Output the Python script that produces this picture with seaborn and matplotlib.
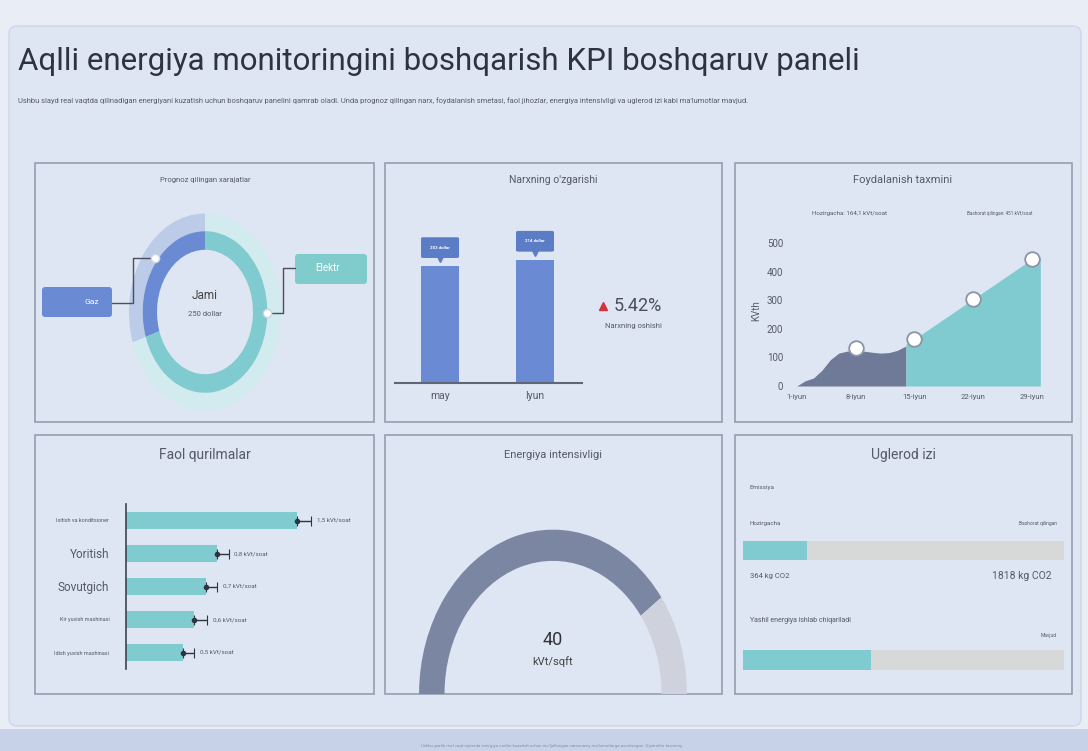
import matplotlib
matplotlib.use("Agg")
import matplotlib.pyplot as plt
from matplotlib.patches import Rectangle, FancyBboxPatch, Wedge
import seaborn as sb

W, H = 1088, 751

# ---- data ----
cost_labels = ["Gaz", "Elektr"]
cost_values = [75, 175]
cost_total = 250

price_months = ["may", "Iyun"]
price_values = [203, 214]
price_change = 5.42

usage_days_actual = [1, 2, 3, 4, 5, 6, 7, 8, 9, 10, 11, 12, 13, 14]
usage_actual = [0, 18, 28, 55, 92, 115, 122, 125, 122, 118, 115, 117, 125, 140]
usage_days_forecast = [14, 15, 22, 29, 30]
usage_forecast = [146, 164, 304, 444, 451]
usage_marker_days = [8, 15, 22, 29]
usage_marker_values = [133, 164, 304, 444]
usage_ticks = [1, 8, 15, 22, 29]
usage_tick_labels = ["1-iyun", "8-iyun", "15-iyun", "22-iyun", "29-iyun"]

device_names = ["Isitish va konditsioner", "Yoritish", "Sovutgich",
                "Kir yuvish mashinasi", "Idish yuvish mashinasi"]
device_kwh = [1.5, 0.8, 0.7, 0.6, 0.5]
device_err = [0.12, 0.1, 0.1, 0.11, 0.1]
device_labels = ["1,5 kVt/soat", "0,8 kVt/soat", "0,7 kVt/soat",
                 "0,6 kVt/soat", "0,5 kVt/soat"]
device_label_size = [4, 8.5, 8.5, 4, 4]

intensity_value = 40
intensity_max = 50

emission_now = 364
emission_forecast = 1818
green_share = 0.4

TXT = "#555b66"
BG = "#dee5f3"
EDGE = "#959db0"
BLUE = "#6a8bd3"
TEAL = "#7fcbcf"

sb.set_style("white")
plt.rcParams["font.family"] = ["Roboto", "DejaVu Sans"]

fig = plt.figure(figsize=(W / 100, H / 100), dpi=100)
fig.patch.set_facecolor("#e9edf6")


def px_axes(x0, y0, x1, y1):
    return fig.add_axes([x0 / W, 1 - y1 / H, (x1 - x0) / W, (y1 - y0) / H])


# background card
bg = px_axes(0, 0, W, H)
bg.set_xlim(0, W)
bg.set_ylim(H, 0)
bg.axis("off")
bg.add_patch(FancyBboxPatch((9, 26), 1072, 700, boxstyle="round,pad=0,rounding_size=8",
                            fc=BG, ec="#cfd6e8", lw=1))
bg.add_patch(Rectangle((0, 729), W, 22, fc="#c7d1e8", lw=0))

panels = [(35, 163, 374, 422), (385, 163, 722, 422), (735, 163, 1072, 422),
          (35, 435, 374, 694), (385, 435, 722, 694), (735, 435, 1072, 694)]
for x0, y0, x1, y1 in panels:
    bg.add_patch(Rectangle((x0, y0), x1 - x0, y1 - y0, fc=BG, ec=EDGE, lw=1.2))

# ---- panel 1: donut ----
ax = px_axes(124, 207, 286, 417)
ax.pie(cost_values, startangle=90, colors=["#bccbe8", "#d2ebee"], radius=1.22,
       wedgeprops=dict(width=0.22, linewidth=0))
ax.pie(cost_values, startangle=90, colors=[BLUE, TEAL], radius=1.0,
       wedgeprops=dict(width=0.23, linewidth=0))
ax.set_aspect("auto")
ax.set_xlim(-1.3, 1.3)
ax.set_ylim(-1.3, 1.3)
ax.axis("off")
ax.text(0, 0.2, "Jami", ha="center", va="center", fontsize=8.5, color="#444")
ax.text(0, -0.03, f"{cost_total} dollar", ha="center", va="center", fontsize=5.5, color=TXT)

# ---- panel 2: bars ----
ax = px_axes(395, 230, 582, 383)
sb.barplot(x=price_months, y=price_values, color=BLUE, width=0.41, saturation=1,
           edgecolor="none", linewidth=0, ax=ax)
ax.set_xlim(-0.474, 1.495)
ax.set_ylim(0, 265.6)
ax.set_facecolor("none")
for s in ["top", "right", "left"]:
    ax.spines[s].set_visible(False)
ax.spines["bottom"].set_color("#5f6675")
ax.spines["bottom"].set_linewidth(1.5)
ax.set_yticks([])
ax.set_xlabel("")
ax.set_ylabel("")
ax.tick_params(axis="x", length=0, pad=6, labelsize=7.5, labelcolor=TXT)
for i, v in enumerate(price_values):
    ax.add_patch(FancyBboxPatch((i - 0.2, v + 14), 0.4, 36, boxstyle="round,pad=0,rounding_size=0.03",
                                fc="#5b7dc6", lw=0, clip_on=False, mutation_aspect=60))
    ax.plot(i, v + 12, marker="v", ms=5, color="#5b7dc6", clip_on=False)
    ax.text(i, v + 32, f"{v} dollar", ha="center", va="center", fontsize=3.2,
            color="white", fontweight="bold")

# ---- panel 3: usage area ----
ax = px_axes(790, 236, 1047, 386)
ax.set_facecolor("none")
ax.fill_between(usage_days_actual, usage_actual, color="#6e7a97", lw=0)
ax.fill_between(usage_days_forecast, usage_forecast, color=TEAL, lw=0)
sb.scatterplot(x=usage_marker_days, y=usage_marker_values, s=110, color="white",
               edgecolor="#8b93a6", linewidth=1.3, ax=ax, zorder=5, clip_on=False)
ax.set_xlim(0.2, 30.8)
ax.set_ylim(0, 525)
ax.set_yticks([0, 100, 200, 300, 400, 500])
ax.set_xticks(usage_ticks)
ax.set_xticklabels(usage_tick_labels)
ax.tick_params(axis="y", length=0, pad=5, labelsize=7, labelcolor=TXT)
ax.tick_params(axis="x", length=0, pad=6, labelsize=5.5, labelcolor=TXT)
ax.set_ylabel("KVth", fontsize=7, color=TXT, labelpad=4)
sb.despine(ax=ax, left=True, bottom=True)

# ---- panel 4: devices ----
ax = px_axes(126, 504, 360, 669)
sb.barplot(x=device_kwh, y=device_names, orient="h", color=TEAL, width=0.5,
           saturation=1, edgecolor="none", linewidth=0, ax=ax)
ax.errorbar(device_kwh, list(range(len(device_kwh))), xerr=[[0] * len(device_err), device_err],
            fmt="o", color="#2f3540", ms=3, capsize=3.5, elinewidth=1, capthick=0.8)
for i, (v, e, lab) in enumerate(zip(device_kwh, device_err, device_labels)):
    ax.text(v + e + 0.05, i, lab, va="center", fontsize=4.5, color=TXT)
ax.set_xlim(0, 2.05)
ax.set_ylim(4.5, -0.5)
ax.set_facecolor("none")
ax.set_xticks([])
ax.set_xlabel("")
ax.set_ylabel("")
for s in ["top", "right", "bottom"]:
    ax.spines[s].set_visible(False)
ax.spines["left"].set_color("#3d4350")
ax.spines["left"].set_linewidth(1.2)
ax.tick_params(axis="y", length=0, pad=12, labelcolor=TXT)
for lab, fs in zip(ax.get_yticklabels(), device_label_size):
    lab.set_fontsize(fs)

# ---- panel 5: gauge ----
ax = px_axes(403, 505, 703, 694)
split = 180 * (1 - intensity_value / intensity_max)
ax.add_patch(Wedge((0, 0), 1, split, 180, width=0.19, color="#7b86a3", lw=0))
ax.add_patch(Wedge((0, 0), 1, 0, split, width=0.19, color="#cfd2dd", lw=0))
ax.set_xlim(-1.12, 1.12)
ax.set_ylim(0, 1.15)
ax.axis("off")
ax.text(0, 0.33, str(intensity_value), ha="center", va="center", fontsize=13, color="#333")
ax.text(0, 0.2, "kVt/sqft", ha="center", va="center", fontsize=8, color="#444")

# ---- panel 6: carbon progress ----
ax = px_axes(743, 470, 1064, 685)
ax.barh([0, 1], [1, 1], height=0.175, color="#d6d9d8", lw=0)
ax.barh([0, 1], [emission_now / emission_forecast, green_share], height=0.175, color=TEAL, lw=0)
ax.set_xlim(0, 1)
ax.set_ylim(1.228, -0.735)
ax.axis("off")

# ---- texts ----
ov = px_axes(0, 0, W, H)
ov.set_xlim(0, W)
ov.set_ylim(H, 0)
ov.axis("off")

ov.text(18, 61, "Aqlli energiya monitoringini boshqarish KPI boshqaruv paneli",
        fontsize=22.5, color="#2f3340", va="center")
ov.text(18, 101, "Ushbu slayd real vaqtda qilinadigan energiyani kuzatish uchun boshqaruv panelini "
        "qamrab oladi. Unda prognoz qilingan narx, foydalanish smetasi, faol jihozlar, energiya "
        "intensivligi va uglerod izi kabi ma'lumotlar mavjud.", fontsize=5.45, color=TXT, va="center")
ov.text(552, 746, "Ushbu grafik real vaqt rejimida energiya sarfini kuzatish uchun mo'ljallangan "
        "namunaviy ma'lumotlarga asoslangan. Qiymatlar taxminiy.", fontsize=3.2, color="#8a90a0",
        ha="center", va="center")

titles = [("Prognoz qilingan xarajatlar", 205, 180, 5.5), ("Narxning o'zgarishi", 553, 180, 7.5),
          ("Foydalanish taxmini", 903, 180, 8), ("Faol qurilmalar", 205, 455, 10),
          ("Energiya intensivligi", 553, 455, 8), ("Uglerod izi", 903, 455, 10)]
for t, x, y, fs in titles:
    ov.text(x, y, t, ha="center", va="center", fontsize=fs, color=TXT)

# donut labels
ov.add_patch(FancyBboxPatch((42, 287), 70, 30, boxstyle="round,pad=0,rounding_size=3", fc=BLUE, lw=0))
ov.text(92, 302, cost_labels[0], ha="center", va="center", fontsize=6, color="white")
ov.add_patch(FancyBboxPatch((295, 254), 72, 30, boxstyle="round,pad=0,rounding_size=3", fc="#80cccd", lw=0))
ov.text(327, 268, cost_labels[1], ha="center", va="center", fontsize=7, color="white")
ov.plot([112, 133, 133, 155], [303, 303, 258, 258], color="#4a4f5a", lw=1)
ov.plot([295, 283, 283, 267], [268, 268, 313, 313], color="#4a4f5a", lw=1)
ov.plot([155, 267], [258, 313], "o", ms=6, mfc="white", mec="#c8d4e6", mew=1, lw=0)

# price change
ov.plot(603, 306, marker="^", ms=6, color="#d0343f")
ov.text(614, 306, f"{price_change}%", fontsize=13, color="#4a4f5a", va="center")
ov.text(633, 326, "Narxning oshishi", fontsize=5.5, color=TXT, ha="center", va="center")

# usage notes
ov.text(850, 214, "Hozirgacha: 164,1 kVt/soat", fontsize=4.5, color=TXT, ha="center", va="center")
ov.text(1000, 214, "Bashorat qilingan: 451 kVt/soat", fontsize=3.3, color=TXT, ha="center", va="center")

# carbon texts
ov.text(750, 487, "Emissiya", fontsize=4.5, color=TXT, va="center")
ov.text(750, 523, "Hozirgacha", fontsize=4.5, color=TXT, va="center")
ov.text(1057, 523, "Bashorat qilingan", fontsize=3.5, color=TXT, va="center", ha="right")
ov.text(750, 576, f"{emission_now} kg CO2", fontsize=5.5, color=TXT, va="center")
ov.text(1052, 576, f"{emission_forecast} kg CO2", fontsize=7.5, color=TXT, va="center", ha="right")
ov.text(750, 620, "Yashil energiya ishlab chiqariladi", fontsize=5, color=TXT, va="center")
ov.text(1057, 636, "Mavjud", fontsize=3.5, color=TXT, va="center", ha="right")

fig.savefig("out.png", dpi=100, facecolor=fig.get_facecolor())
